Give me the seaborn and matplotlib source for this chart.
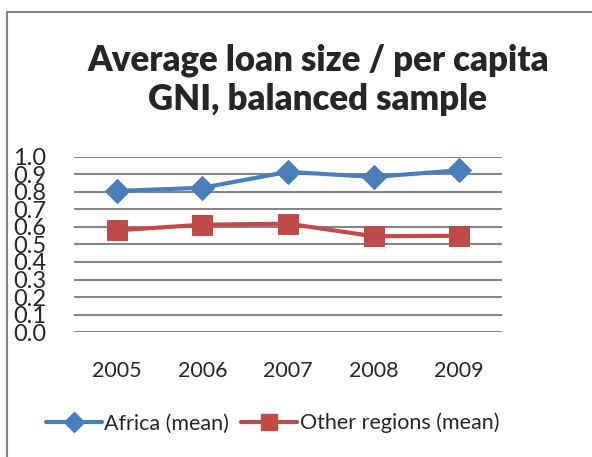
import numpy as np
import matplotlib
matplotlib.use("Agg")
import matplotlib.pyplot as plt
import seaborn as sns
from matplotlib.lines import Line2D

# data
years = ["2005", "2006", "2007", "2008", "2009"]
africa_mean = [0.806, 0.824, 0.915, 0.886, 0.924]
other_mean = [0.581, 0.613, 0.619, 0.547, 0.550]
y_ticks = [0.0, 0.1, 0.2, 0.3, 0.4, 0.5, 0.6, 0.7, 0.8, 0.9, 1.0]

blue = "#4A7EBB"
red = "#BE4B48"
grid_col = "#868686"

sns.set_style("white")
plt.rcParams['font.family'] = ['Lato', 'DejaVu Sans']

fig = plt.figure(figsize=(5.92, 4.57), dpi=100)
ax = fig.add_axes([0.125, 0.2735, 0.723, 0.383])

pos = np.arange(len(years))
sns.lineplot(x=pos, y=africa_mean, ax=ax, color=blue, lw=3, marker="D",
             markersize=12, markeredgecolor=blue, label="Africa (mean)")
sns.lineplot(x=pos, y=other_mean, ax=ax, color=red, lw=3, marker="s",
             markersize=14, markeredgecolor=red, label="Other regions (mean)")

ax.set_xlim(-0.5, len(years) - 0.5)
ax.set_ylim(0, 1.0)
ax.set_yticks(y_ticks)
ax.set_yticklabels([f"{v:.1f}" for v in y_ticks], fontsize=17)
ax.set_xticks(pos)
ax.set_xticklabels(years, fontsize=15.5)
ax.tick_params(axis="y", length=0, pad=20)
ax.tick_params(axis="x", length=0, pad=21)
for y in y_ticks:
    ax.axhline(y, color=grid_col, lw=1.5, zorder=0)
for s in ax.spines.values():
    s.set_visible(False)
ax.set_xlabel("")
ax.set_ylabel("")
ax.get_legend().remove()

fig.text(0.537, 0.868, "Average loan size / per capita", ha="center", va="center",
         fontsize=25, fontweight="heavy")
fig.text(0.537, 0.782, "GNI, balanced sample", ha="center", va="center",
         fontsize=25, fontweight="heavy")

handles = [
    Line2D([], [], color=blue, lw=3, marker="D", markersize=10, markeredgecolor=blue),
    Line2D([], [], color=red, lw=3, marker="s", markersize=12, markeredgecolor=red),
]
fig.legend(handles, ["Africa (mean)", "Other regions (mean)"], loc="center",
           bbox_to_anchor=(0.46, 0.074), ncol=2, frameon=False, fontsize=15.5,
           handlelength=2.6, handletextpad=0.1, columnspacing=0.6)

# chart-area border (left and top visible)
fig.add_artist(Line2D([0.012, 0.012], [0, 0.974], color=grid_col, lw=1.5))
fig.add_artist(Line2D([0.012, 1.0], [0.974, 0.974], color=grid_col, lw=1.5))

fig.savefig("out.png", dpi=100)
